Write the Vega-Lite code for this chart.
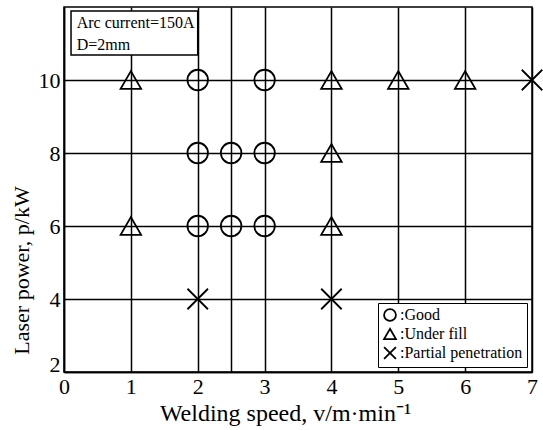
{
  "$schema": "https://vega.github.io/schema/vega-lite/v6.json",
  "width": 468,
  "height": 365,
  "autosize": {"type": "none"},
  "padding": {"left": 64, "top": 7, "right": 11, "bottom": 58},
  "background": "white",
  "config": {
    "view": {"stroke": "black", "strokeWidth": 1.5},
    "axis": {
      "grid": true,
      "domainColor": "black", "domainWidth": 1.5,
      "gridColor": "black", "gridWidth": 1.5, "gridOpacity": 1,
      "ticks": false,
      "labelFont": "Liberation Serif", "labelFontSize": 22, "labelColor": "black",
      "titleFont": "Liberation Serif", "titleFontSize": 22, "titleFontWeight": "normal", "titleColor": "black",
      "labelPadding": 4, "labelFlush": false
    },
    "legend": {
      "orient": "none", "legendX": 314, "legendY": 296,
      "strokeColor": "black", "fillColor": "white", "padding": 4,
      "symbolStrokeColor": "black", "symbolFillColor": "transparent", "symbolStrokeWidth": 1.8, "symbolSize": 140,
      "labelFont": "Liberation Serif", "labelFontSize": 16, "labelColor": "black",
      "labelOffset": 2, "rowPadding": 0
    }
  },
  "layer": [
    {
      "data": {"values": [{}]},
      "mark": {"type": "rect", "fill": "white", "stroke": "black", "strokeWidth": 1.5},
      "encoding": {
        "x": {"datum": 0.105, "type": "quantitative"},
        "x2": {"datum": 2.0},
        "y": {"datum": 11.89, "type": "quantitative"},
        "y2": {"datum": 10.685}
      }
    },
    {
      "data": {"values": [{}]},
      "mark": {"type": "text", "align": "left", "baseline": "middle", "font": "Liberation Serif", "fontSize": 16, "color": "black"},
      "encoding": {
        "x": {"datum": 0.19, "type": "quantitative"},
        "y": {"datum": 11.56, "type": "quantitative"},
        "text": {"value": "Arc current=150A"}
      }
    },
    {
      "data": {"values": [{}]},
      "mark": {"type": "text", "align": "left", "baseline": "middle", "font": "Liberation Serif", "fontSize": 16, "color": "black"},
      "encoding": {
        "x": {"datum": 0.19, "type": "quantitative"},
        "y": {"datum": 10.96, "type": "quantitative"},
        "text": {"value": "D=2mm"}
      }
    },
    {
      "data": {"values": [
        {"speed": 2, "power": 10, "result": "Good"},
        {"speed": 3, "power": 10, "result": "Good"},
        {"speed": 2, "power": 8, "result": "Good"},
        {"speed": 2.5, "power": 8, "result": "Good"},
        {"speed": 3, "power": 8, "result": "Good"},
        {"speed": 2, "power": 6, "result": "Good"},
        {"speed": 2.5, "power": 6, "result": "Good"},
        {"speed": 3, "power": 6, "result": "Good"},
        {"speed": 1, "power": 10, "result": "Under fill"},
        {"speed": 4, "power": 10, "result": "Under fill"},
        {"speed": 5, "power": 10, "result": "Under fill"},
        {"speed": 6, "power": 10, "result": "Under fill"},
        {"speed": 4, "power": 8, "result": "Under fill"},
        {"speed": 1, "power": 6, "result": "Under fill"},
        {"speed": 4, "power": 6, "result": "Under fill"},
        {"speed": 2, "power": 4, "result": "Partial penetration"},
        {"speed": 4, "power": 4, "result": "Partial penetration"},
        {"speed": 7, "power": 10, "result": "Partial penetration"}
      ]},
      "mark": {"type": "point", "filled": false, "stroke": "black", "opacity": 1, "size": 420, "clip": false},
      "encoding": {
        "x": {
          "field": "speed", "type": "quantitative",
          "scale": {"domain": [0, 7], "nice": false, "zero": false},
          "axis": {
            "grid": true,
            "title": "Welding speed, v/m·min⁻¹",
            "titleFontSize": 24,
            "values": [0, 1, 2, 2.5, 3, 4, 5, 6, 7],
            "labelExpr": "datum.value == 2.5 ? '' : format(datum.value, 'd')",
            "titleX": 221
          }
        },
        "y": {
          "field": "power", "type": "quantitative",
          "scale": {"domain": [2, 12], "nice": false, "zero": false},
          "axis": {
            "grid": true,
            "title": "Laser power, p/kW",
            "values": [2, 4, 6, 8, 10],
            "labelExpr": "format(datum.value, 'd')",
            "labelOffset": {"condition": {"test": "datum.value == 2", "value": -8}, "value": 0},
            "titleX": -36, "titleY": 263, "titleBaseline": "alphabetic"
          }
        },
        "shape": {
          "field": "result", "type": "nominal",
          "scale": {"domain": ["Good", "Under fill", "Partial penetration"], "range": ["circle", "triangle-up", "M-1,-1L1,1M1,-1L-1,1"]},
          "legend": {"title": null, "labelExpr": "':' + datum.label"}
        },
        "strokeWidth": {
          "field": "result", "type": "nominal",
          "scale": {"domain": ["Good", "Under fill", "Partial penetration"], "range": [1.8, 1.8, 3]},
          "legend": {"title": null, "labelExpr": "':' + datum.label"}
        }
      }
    }
  ]
}
